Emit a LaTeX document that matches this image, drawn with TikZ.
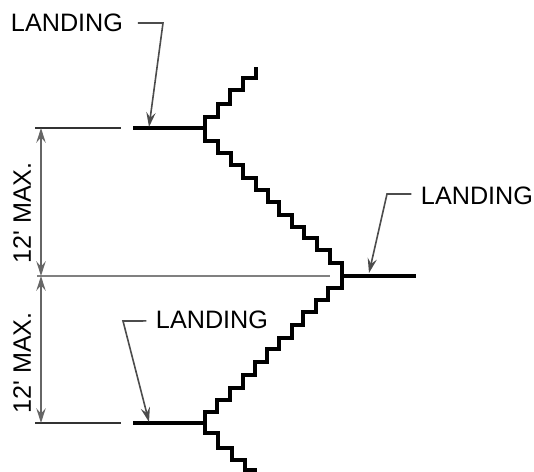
\documentclass[tikz,border=0pt]{standalone}
\usepackage{fontspec}
\setmainfont{Liberation Sans}
\usetikzlibrary{arrows.meta}
\tikzset{
	stair/.style={draw=black,line width=2.6pt,line join=miter},
	platform/.style={draw=black,line width=2.5pt},
	extline/.style={draw=black!80,line width=1.3pt},
	midline/.style={draw=black!50,line width=2.2pt},
	dimline/.style={draw=black!60,line width=1.5pt,{Stealth[length=11pt,width=7pt,inset=4pt]}-{Stealth[length=11pt,width=7pt,inset=4pt]}},
	leader/.style={draw=black!70,line width=1.2pt,-{Stealth[length=11pt,width=7pt,inset=4pt]}},
	lbl/.style={font=\fontsize{18.9}{20}\selectfont,text=black,inner sep=0pt}
}
\begin{document}
\begin{tikzpicture}[x=.75pt,y=-.75pt]
	\useasboundingbox (0,0) rectangle (534,471);
	%anchor points
	\coordinate (dimtop) at (41,128);
	\coordinate (dimmid) at (41,276);
	\coordinate (dimbot) at (41,423);
	\coordinate (landtopin) at (133,128);
	\coordinate (landtopout) at (205,128);
	\coordinate (landmidin) at (342,276);
	\coordinate (landmidout) at (416,276);
	\coordinate (landbotin) at (133,423);
	\coordinate (landbotout) at (205,423);
	
	%stairs
	\draw[stair] (landtopout) -- (205,117) -- (218,117) -- (218,104) -- (230,104) -- (230,90) -- (243,90) -- (243,78) -- (256,78) -- (256,67);
	\draw[stair] (landtopout) -- (205,141) -- (218,141) -- (218,153) -- (231,153) -- (231,165) -- (243,165) -- (243,178) -- (256,178) -- (256,190) -- (268,190) -- (268,202) -- (279,202) -- (279,215) -- (292,215) -- (292,227) -- (304,227) -- (304,238) -- (317,238) -- (317,250) -- (330,250) -- (330,263) -- (342,263) -- (landmidin);
	\draw[stair] (landmidin) -- (342,288) -- (328,288) -- (328,300) -- (316,300) -- (316,312) -- (303,312) -- (303,325) -- (292,325) -- (292,338) -- (279,338) -- (279,349) -- (267,349) -- (267,362) -- (255,362) -- (255,375) -- (243,375) -- (243,388) -- (230,388) -- (230,400) -- (217,400) -- (217,412) -- (205,412) -- (landbotout);
	\draw[stair] (landbotout) -- (205,433) -- (218,433) -- (218,448) -- (232,448) -- (232,460) -- (245,460) -- (245,470) -- (257,470);
	
	%landings
	\draw[platform] (landtopin) -- (landtopout);
	\draw[platform] (landmidin) -- (landmidout);
	\draw[platform] (landbotin) -- (landbotout);
	
	%extension lines
	\coordinate (exttopa) at (35,128);
	\coordinate (exttopb) at (121,128);
	\coordinate (extmida) at (37,276);
	\coordinate (extmidb) at (330,276);
	\coordinate (extbota) at (35,423);
	\coordinate (extbotb) at (121,423);
	\draw[extline] (exttopa) -- (exttopb);
	\draw[midline] (extmida) -- (extmidb);
	\draw[extline] (extbota) -- (extbotb);
	
	%dimensions
	\draw[dimline] (dimtop) -- (dimmid);
	\draw[dimline] (dimmid) -- (dimbot);
	\node[lbl,rotate=90] (dimupper) at (22,213) {12\textquotesingle{} MAX.};
	\node[lbl,rotate=90] (dimlower) at (22,363) {12\textquotesingle{} MAX.};
	
	%labels and leaders
	\node[lbl] (labeltop) at (67,23) {LANDING};
	\node[lbl] (labelmid) at (477,196) {LANDING};
	\node[lbl] (labelbot) at (212,320) {LANDING};
	%
	\coordinate (kneetop) at (163,23);
	\coordinate (kneemid) at (387,194);
	\coordinate (kneebot) at (123,321);
	\draw[leader] ([xshift=11pt]labeltop.east) -- (kneetop) -- (149,127);
	\draw[leader] ([xshift=-7pt,yshift=1.5pt]labelmid.west) -- (kneemid) -- (369,273);
	\draw[leader] ([xshift=-7pt,yshift=-.7pt]labelbot.west) -- (kneebot) -- (149,422);
\end{tikzpicture}
\end{document}
